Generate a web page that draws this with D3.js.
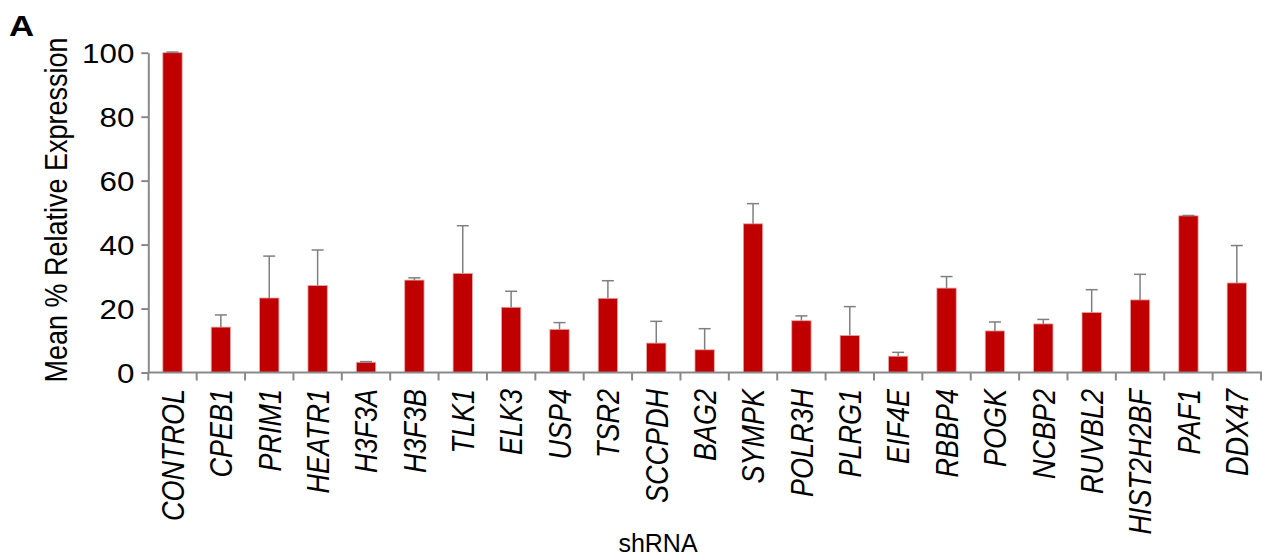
<!DOCTYPE html>
<html>
<head>
<meta charset="utf-8">
<script src="https://cdn.jsdelivr.net/npm/d3@7"></script>
<style>
  body { margin: 0; background: #fff; }
  text { font-family: "Liberation Sans", Arial, sans-serif; fill: #000; }
</style>
</head>
<body>
<svg id="chart" width="1262" height="556"></svg>
<script>
const genes = ['CONTROL', 'CPEB1', 'PRIM1', 'HEATR1', 'H3F3A', 'H3F3B', 'TLK1', 'ELK3', 'USP4', 'TSR2',
    'SCCPDH', 'BAG2', 'SYMPK', 'POLR3H', 'PLRG1', 'EIF4E', 'RBBP4', 'POGK', 'NCBP2', 'RUVBL2',
    'HIST2H2BF', 'PAF1', 'DDX47'];
const means = [100, 14.2, 23.3, 27.2, 3.2, 28.9, 31.0, 20.4, 13.5, 23.2,
    9.2, 7.1, 46.5, 16.2, 11.6, 5.1, 26.4, 13.0, 15.2, 18.8,
    22.7, 49.0, 28.0];
const errUp = [0.2, 3.8, 13.1, 11.1, 0.2, 0.7, 14.9, 5.0, 2.1, 5.5,
    6.8, 6.6, 6.3, 1.5, 9.0, 1.2, 3.6, 2.8, 1.4, 7.1,
    8.0, 0.1, 11.7];
const yTicks = [0, 20, 40, 60, 80, 100];

const svg = d3.select('#chart');
const axisColor = '#898989';
const stretch = 1.16; // picture is a bit wider than tall

const x = d3.scaleBand()
    .domain(genes)
    .range([148.3, 1261])
    .padding(0);
const y = d3.scaleLinear()
    .domain([0, 100])
    .range([372.5, 52.7]);

const barW = x.bandwidth() * 0.4;

// bars
svg.append('g')
    .selectAll('rect')
    .data(genes)
    .enter()
    .append('rect')
    .attr('x', (d) => x(d) + (x.bandwidth() - barW) / 2)
    .attr('y', (_, i) => y(means[i]))
    .attr('width', barW)
    .attr('height', (_, i) => y(0) - y(means[i]))
    .style('fill', '#C00000')
    .style('stroke', '#eaa8a8')
    .style('stroke-width', 0.8);

// error bars
const errG = svg.append('g')
    .style('stroke', '#7f7f7f')
    .style('stroke-width', 1.5);
genes.forEach((g, i) => {
    const cx = x(g) + x.bandwidth() / 2;
    const top = y(means[i] + errUp[i]);
    errG.append('line')
        .attr('x1', cx).attr('x2', cx)
        .attr('y1', y(means[i])).attr('y2', top);
    errG.append('line')
        .attr('x1', cx - 6).attr('x2', cx + 6)
        .attr('y1', top).attr('y2', top);
});

// y axis
const yAxis = svg.append('g')
    .attr('transform', 'translate(148.3,0)')
    .call(d3.axisLeft(y).tickValues(yTicks).tickSize(7).tickSizeOuter(0).tickPadding(7));
yAxis.select('.domain').style('stroke', axisColor).style('stroke-width', 2);
yAxis.selectAll('.tick line').style('stroke', axisColor).style('stroke-width', 2);
yAxis.selectAll('.tick text')
    .attr('x', null).attr('dy', null)
    .style('font-size', '27px')
    .style('font-family', '"Liberation Sans", Arial, sans-serif')
    .attr('fill', '#000')
    .attr('dominant-baseline', 'central')
    .attr('transform', `translate(-14,1) scale(${stretch},1)`);

// x axis
const xAxis = svg.append('g')
    .attr('transform', `translate(0,${y(0)})`);
xAxis.append('line')
    .attr('x1', 148.3).attr('x2', 1262)
    .attr('y1', 0).attr('y2', 0)
    .style('stroke', axisColor).style('stroke-width', 2);
const edges = genes.map((g) => x(g)).concat([x.range()[1]]);
xAxis.selectAll('.xtick')
    .data(edges)
    .enter()
    .append('line')
    .attr('x1', (d) => d).attr('x2', (d) => d)
    .attr('y1', 0).attr('y2', 8)
    .style('stroke', axisColor).style('stroke-width', 2);

// category labels, italic and turned
svg.append('g')
    .selectAll('text')
    .data(genes)
    .enter()
    .append('text')
    .attr('transform', (d) => `translate(${x(d) + x.bandwidth() / 2},389) scale(${stretch},1) rotate(-90)`)
    .attr('text-anchor', 'end')
    .attr('dy', '0.36em')
    .style('font-size', '27px')
    .style('font-style', 'italic')
    .text((d) => d);

// axis titles
svg.append('text')
    .attr('transform', `translate(67,210) scale(${stretch},1) rotate(-90)`)
    .attr('text-anchor', 'middle')
    .style('font-size', '27px')
    .text('Mean % Relative Expression');

svg.append('text')
    .attr('x', 658)
    .attr('y', 552)
    .attr('text-anchor', 'middle')
    .style('font-size', '25px')
    .text('shRNA');

svg.append('text')
    .attr('transform', `translate(9,36) scale(${stretch},1)`)
    .style('font-size', '30px')
    .style('font-weight', 'bold')
    .text('A');
</script>
</body>
</html>
